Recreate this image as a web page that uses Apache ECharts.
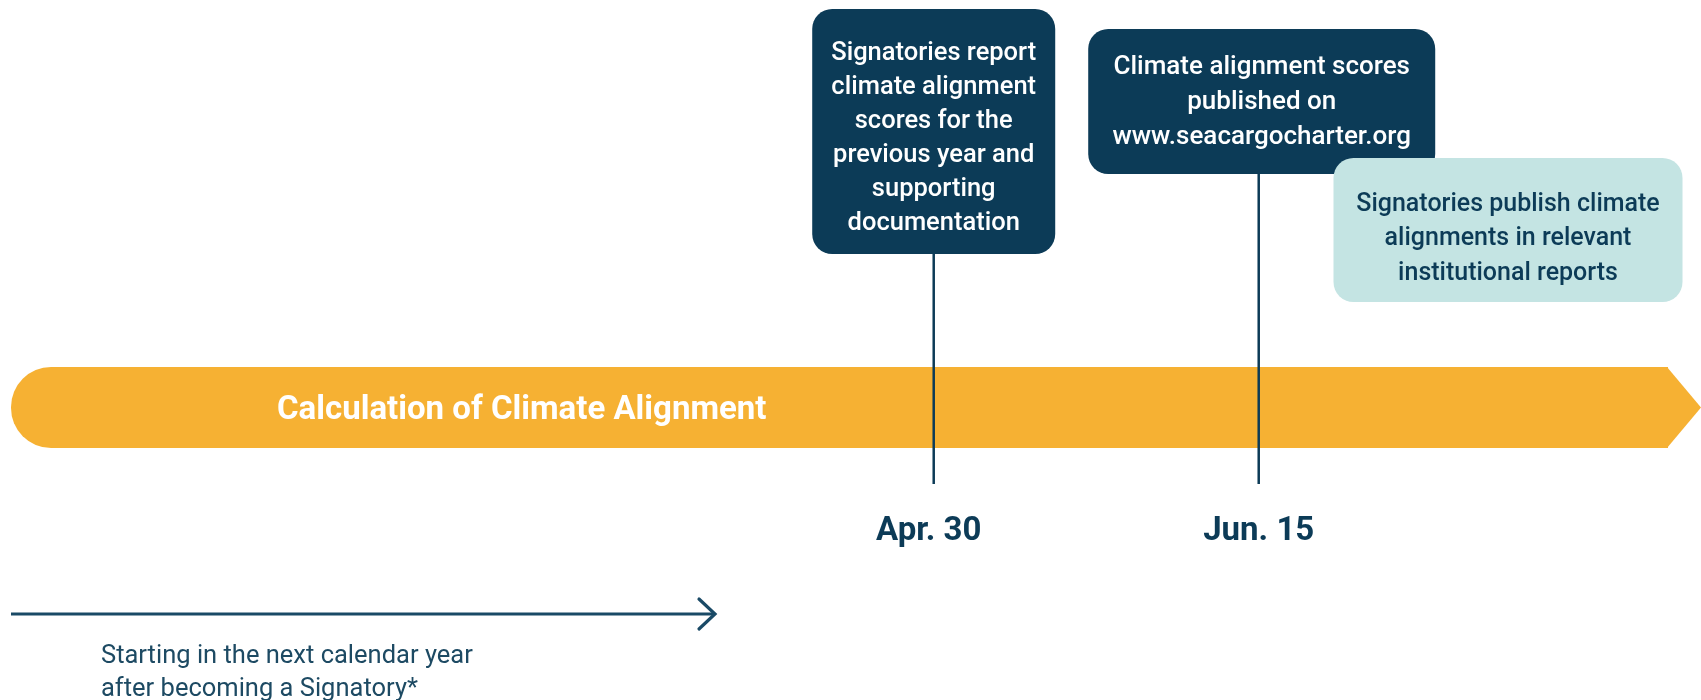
<!DOCTYPE html>
<html><head><meta charset="utf-8">
<script src="https://cdn.jsdelivr.net/npm/echarts@6/dist/echarts.min.js"></script>
<style>html,body{margin:0;padding:0;background:#fff}#c{width:1701px;height:700px}</style>
</head><body><div id="c"></div>
<script>
// ---- data ----
const milestoneDays = [120, 166];                 // day of year: Apr 30, Jun 15
const milestoneLabels = ['Apr. 30', 'Jun. 15'];
const eventDays = [120, 166, 201];
const eventTexts = [
  'Signatories report\nclimate alignment\nscores for the\nprevious year and\nsupporting\ndocumentation',
  'Climate alignment scores\npublished on\nwww.seacargocharter.org',
  'Signatories publish climate\nalignments in relevant\ninstitutional reports'
];
const phaseLabels = ['Calculation of Climate Alignment'];
const noteLines = ['Starting in the next calendar year', 'after becoming a Signatory*'];

// ---- styles / layout ----
const NAVY = '#0c3b57', ORANGE = '#f6b133', LIGHT = '#c4e4e3';
const FONT = 'Roboto';
const boxLayout = [
  {w: 243, top: 9, bottom: 254, dx: 0, fill: NAVY, color: '#ffffff', ty: 7, fs: 25.5, lh: 34},
  {w: 347, top: 29, bottom: 174, dx: 3, fill: NAVY, color: '#ffffff', ty: 1, fs: 26, lh: 35},
  {w: 349, top: 158, bottom: 302, dx: 2, fill: LIGHT, color: NAVY, ty: 9, fs: 25, lh: 34.5}
];
const labelDx = [-5, 0];
const drawOrder = [0, 1, 2];

const chart = echarts.init(document.getElementById('c'), null, {renderer: 'canvas'});

const option = {
  animation: false,
  backgroundColor: '#ffffff',
  grid: {left: 11, right: 0, top: 0, bottom: 0},
  xAxis: {type: 'value', min: -10.6, max: 228.6, show: false},
  yAxis: {type: 'value', min: 0, max: 700, inverse: true, show: false},
  series: [
    { // phase bar
      type: 'custom', silent: true,
      data: phaseLabels.map((l, i) => [i]),
      renderItem: function (params, api) {
        const cs = params.coordSys;
        const x0 = cs.x, x1 = cs.x + cs.width;
        const yTop = api.coord([0, 367])[1], yBot = api.coord([0, 448])[1];
        const tip = 34;
        const yMid = (yTop + yBot) / 2;
        return {
          type: 'group',
          children: [
            {type: 'rect', shape: {x: x0, y: yTop, width: x1 - tip - x0 + 1, height: yBot - yTop, r: [40, 0, 0, 40]}, style: {fill: ORANGE}},
            {type: 'polygon', shape: {points: [[x1 - tip, yTop], [x1, yMid], [x1 - tip, yBot]]}, style: {fill: ORANGE}},
            {type: 'text', style: {text: phaseLabels[params.dataIndex], x: x0 + 266, y: yMid + 3, fill: '#ffffff',
              fontFamily: FONT, fontWeight: 'bold', fontSize: 33, align: 'left', verticalAlign: 'middle'}}
          ]
        };
      }
    },
    { // milestone stems + labels
      type: 'custom', silent: true,
      data: milestoneDays.map((d, i) => [d, i]),
      renderItem: function (params, api) {
        const i = params.dataIndex;
        const x = api.coord([api.value(0), 0])[0];
        const y0 = api.coord([0, boxLayout[i].bottom])[1];
        const y1 = api.coord([0, 484])[1];
        const yl = api.coord([0, 532])[1];
        return {
          type: 'group',
          children: [
            {type: 'line', shape: {x1: x, y1: y0, x2: x, y2: y1}, style: {stroke: NAVY, lineWidth: 2.5}},
            {type: 'text', style: {text: milestoneLabels[i], x: x + labelDx[i], y: yl, fill: NAVY,
              fontFamily: FONT, fontWeight: 'bold', fontSize: 33, align: 'center', verticalAlign: 'middle'}}
          ]
        };
      }
    },
    { // event boxes
      type: 'custom', silent: true,
      data: drawOrder.map(i => [eventDays[i], i]),
      renderItem: function (params, api) {
        const i = api.value(1);
        const L = boxLayout[i];
        const cx = api.coord([api.value(0), 0])[0] + L.dx;
        const yT = api.coord([0, L.top])[1], yB = api.coord([0, L.bottom])[1];
        return {
          type: 'group',
          children: [
            {type: 'rect', shape: {x: cx - L.w / 2, y: yT, width: L.w, height: yB - yT, r: 20}, style: {fill: L.fill}},
            {type: 'text', style: {text: eventTexts[i], x: cx, y: (yT + yB) / 2 + L.ty, fill: L.color,
              fontFamily: FONT, fontWeight: 500, fontSize: L.fs, lineHeight: L.lh, align: 'center', verticalAlign: 'middle'}}
          ]
        };
      }
    },
    { // note arrow + text
      type: 'custom', silent: true,
      data: [[0]],
      renderItem: function (params, api) {
        const cs = params.coordSys;
        const x0 = cs.x, x1 = cs.x + 704;
        const y = api.coord([0, 614])[1];
        return {
          type: 'group',
          children: [
            {type: 'line', shape: {x1: x0, y1: y, x2: x1 - 1, y2: y}, style: {stroke: '#1a4a66', lineWidth: 3}},
            {type: 'polyline', shape: {points: [[x1 - 16, y - 15], [x1, y], [x1 - 16, y + 15]]},
              style: {stroke: '#1a4a66', lineWidth: 3.2, fill: null, lineCap: 'round', lineJoin: 'miter'}},
            {type: 'text', style: {text: noteLines.join('\n'), x: x0 + 90, y: api.coord([0, 673])[1], fill: '#1d4a63',
              fontFamily: FONT, fontWeight: 'normal', fontSize: 25.5, lineHeight: 33, align: 'left', verticalAlign: 'middle'}}
          ]
        };
      }
    }
  ]
};
chart.setOption(option);
</script>
</body></html>
